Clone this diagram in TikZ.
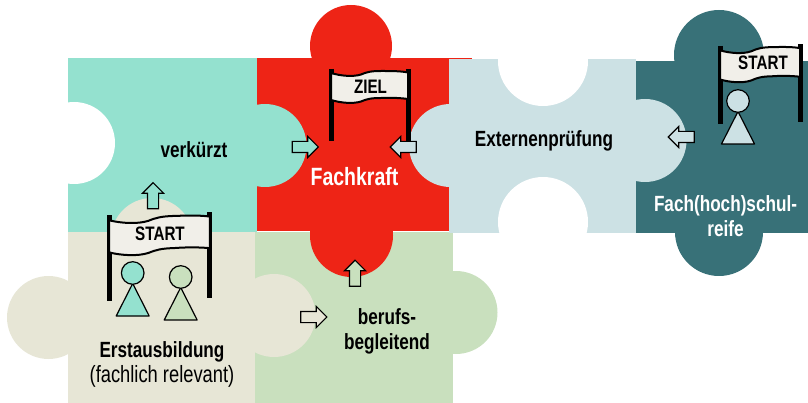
\documentclass[tikz,border=0pt]{standalone}
\usepackage{fontspec}
\setmainfont{Liberation Sans}[FakeStretch=0.78]
\definecolor{pieceteal}{RGB}{148, 225, 207}
\definecolor{piecered}{RGB}{238, 36, 22}
\definecolor{pieceblue}{RGB}{204, 225, 228}
\definecolor{piecedark}{RGB}{56, 113, 120}
\definecolor{piecebeige}{RGB}{231, 230, 214}
\definecolor{piecegreen}{RGB}{201, 224, 190}
\definecolor{flagwhite}{RGB}{241, 239, 233}
\usetikzlibrary{
  shapes.arrows,
}
\tikzset{
  blockarrow/.style={draw=black,line width=1.1pt,single arrow,single arrow head extend=5pt,
    single arrow tip angle=90,inner sep=5pt,minimum width=20pt,minimum height=26pt,outer sep=0pt},
  labelbold/.style={font=\fontsize{22}{25}\selectfont\bfseries,align=center,text=black,inner sep=0pt},
  labelwhite/.style={labelbold,text=white},
  flagtext/.style={font=\fontsize{19.5}{20}\selectfont\bfseries,text=black,inner sep=0pt},
  pics/flagbanner/.style={code={
    \draw[line width=5pt] (0,0) -- (0,72);
    \draw[line width=5pt] (77,0) -- (77,72);
    \draw[fill=flagwhite,line width=2pt,line join=round] (0,4) .. controls (10,7) and (22,8) .. (30,5.5)
      .. controls (36,3) and (40,2) .. (50,2) .. controls (60,2) and (70,2) .. (77,3.5) -- (77,30)
      .. controls (70,29) and (60,28.5) .. (50,29) .. controls (40,29) and (36,30) .. (30,32.5)
      .. controls (22,35) and (10,34) .. (0,31) -- cycle;
  }},
  pics/pawn/.style={code={
    \draw[fill=#1,line width=1.2pt,line join=round] (0,10.5) -- (16.5,43) -- (-16.5,43) -- cycle;
    \draw[fill=#1,line width=1.2pt] (0,0) circle[radius=11.3pt];
  }},
}

\begin{document}
\begin{tikzpicture}[x=1pt,y=-1pt]
        \useasboundingbox (0,0) rectangle (808,403);

        % puzzle pieces
        \fill[piecegreen] (255,232) rectangle (453,403);
        \fill[piecegreen] (456,312.5) circle[radius=41.5pt];

        \fill[piecered] (257,58) rectangle (449,231);
        \fill[piecered] (449,58) rectangle (472,59);
        \fill[piecered] (351,46) circle[radius=41pt];
        \fill[piecered] (351.5,235.5) circle[radius=41.5pt];

        \fill[pieceteal] (68,58) rectangle (257,232);
        \fill[pieceteal] (265,145.5) circle[radius=41.5pt];
        \fill[white] (74,143) circle[radius=41pt];

        \fill[piecebeige] (68,232) rectangle (255,403);
        \fill[piecebeige] (152,239) circle[radius=41pt];
        \fill[piecebeige] (48.5,317.5) circle[radius=41.5pt];
        \fill[piecebeige] (274,315.5) circle[radius=41.5pt];

        \fill[piecedark] (636,61) rectangle (808,233);
        \fill[piecedark] (719,55) circle[radius=45pt];
        \fill[piecedark] (719,232) circle[radius=44pt];

        \fill[pieceblue] (449,59) rectangle (636,233);
        \fill[pieceblue] (645,140.5) circle[radius=41.5pt];
        \fill[pieceblue] (450.5,145.5) circle[radius=41.5pt];
        \fill[white] (543,61) circle[radius=45pt];
        \fill[white] (543,222) circle[radius=45pt];

        % flags
        \pic at (331,69) {flagbanner};
        \pic[yslant=0.02,xscale=1.04,yscale=1.08] at (720,46) {flagbanner};
        \pic[yslant=0.03,xscale=1.31,yscale=1.19] at (109,215.5) {flagbanner};

        \node[flagtext] (ziel)   at (370.5,87) {ZIEL};
        \node[flagtext] (start1) at (763,63)  {START};
        \node[flagtext] (start2) at (160,234) {START};

        % pawns
        \pic at (738,101)   {pawn=pieceblue};
        \pic at (132.7,273) {pawn=pieceteal};
        \pic at (180.7,277) {pawn=piecegreen};

        % arrows
        \node[blockarrow,fill=pieceteal]                (arrowa) at (302.5,147) {};
        \node[blockarrow,fill=pieceblue,rotate=180]     (arrowb) at (406,147)   {};
        \node[blockarrow,fill=pieceblue,rotate=180]     (arrowc) at (684,137)   {};
        \node[blockarrow,fill=pieceteal,rotate=90]      (arrowd) at (153,198.5) {};
        \node[blockarrow,fill=piecegreen,rotate=90]     (arrowe) at (355,276)   {};
        \node[blockarrow,fill=piecebeige]               (arrowf) at (311,317)   {};

        % labels
        \node[labelbold]  (verkuerzt)  at (194,150)   {verkürzt};
        \node[labelwhite,font=\fontsize{25}{25}\selectfont\bfseries] (fachkraft) at (354.5,177) {Fachkraft};
        \node[labelbold]  (extern)     at (544,141)   {Externenprüfung};
        \node[labelwhite] (schulreife) at (725.5,216) {Fach(hoch)schul-\\reife};
        \node[labelbold]  (berufs)     at (387,331)   {berufs-\\begleitend};
        \node[labelbold]  (erstaus)    at (162,364.5) {Erstausbildung\\\fontsize{23.5}{25}\selectfont\mdseries(fachlich relevant)};

\end{tikzpicture}
\end{document}
